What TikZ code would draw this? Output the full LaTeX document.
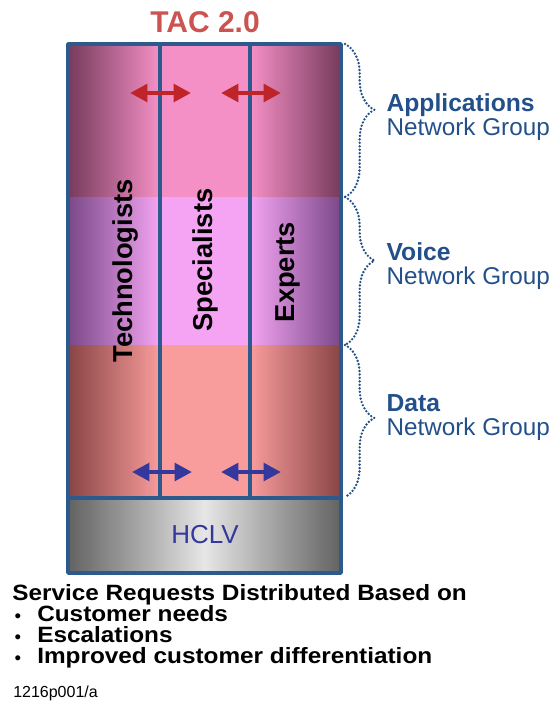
\documentclass[tikz,border=0pt]{standalone}
\usepackage{fontspec}
\setmainfont{Liberation Sans}
\newfontfamily\widesans[FakeStretch=1.1]{Liberation Sans}
\usetikzlibrary{arrows.meta,decorations.pathreplacing}
\definecolor{FrameBlue}{HTML}{2C5A8C}
\definecolor{TacRed}{HTML}{CB5450}
\definecolor{ArrowRed}{HTML}{BE2428}
\definecolor{ArrowBlue}{HTML}{34389C}
\definecolor{LabelBlue}{HTML}{23508A}
\definecolor{AppEdge}{HTML}{763A5C}
\definecolor{AppMid}{HTML}{F590C6}
\definecolor{VoiceEdge}{HTML}{7A4888}
\definecolor{VoiceMid}{HTML}{F4A4F2}
\definecolor{DataEdge}{HTML}{884444}
\definecolor{DataMid}{HTML}{F99C9C}
\definecolor{HclvEdge}{HTML}{626262}
\definecolor{HclvMid}{HTML}{E6E6E6}

\begin{document}
\begin{tikzpicture}[x=0.75pt,y=-0.75pt,line cap=round,line join=round,
  frame/.style={draw=FrameBlue,line width=2.6pt},
  swap/.style={line width=3.4pt,{Triangle[length=13pt,width=13pt]}-{Triangle[length=13pt,width=13pt]}},
  colname/.style={rotate=90,font=\bfseries\fontsize{20.5}{24}\selectfont},
  grouphead/.style={anchor=west,inner sep=1pt,text height=13pt,text depth=3pt,text=LabelBlue,
    font=\bfseries\fontsize{18.5}{22}\selectfont},
  groupsub/.style={anchor=west,inner sep=1pt,text height=13pt,text depth=3pt,text=LabelBlue,
    font=\fontsize{18.2}{22}\selectfont},
  groupbrace/.style={draw=LabelBlue,line width=2pt,dash pattern=on 0pt off 2.6pt,decorate,
    decoration={brace,amplitude=22pt,aspect=#1}},
  listline/.style={anchor=base west,inner sep=0pt,
    font=\widesans\bfseries\fontsize{16.6}{19}\selectfont}]
  \useasboundingbox (0,0) rectangle (553,704);

  % three bands, dark at the outer edges
  \foreach \ya/\yb/\ce/\cm in {44/197/AppEdge/AppMid,197/345/VoiceEdge/VoiceMid,345/498/DataEdge/DataMid}{
    \shade[left color=\ce,right color=\cm] (68,\ya) rectangle (160,\yb);
    \fill[\cm] (160,\ya) rectangle (250,\yb);
    \shade[left color=\cm,right color=\ce] (250,\ya) rectangle (341,\yb);
  }
  \shade[left color=HclvEdge,right color=HclvEdge,middle color=HclvMid] (68,498) rectangle (341,573);
  \draw[frame] (68,44) rectangle (341,573); \draw[frame] (68,498)--(341,498);
  \draw[frame] (160,44)--(160,498); \draw[frame] (250,44)--(250,498);

  \node[font=\bfseries\fontsize{22.5}{27}\selectfont,text=TacRed] (tac) at (205,22) {TAC 2.0};
  \node[colname] (tech) at (125,271) {Technologists};
  \node[colname] (spec) at (205,260) {Specialists};
  \node[colname] (expt) at (288,272) {Experts};
  \node[text=ArrowBlue,font=\fontsize{19.5}{23}\selectfont] (hclv) at (205,535) {HCLV};

  \coordinate (r1) at (130,93); \coordinate (r2) at (191,93);
  \coordinate (r3) at (221,93); \coordinate (r4) at (281,93);
  \coordinate (b1) at (132,472); \coordinate (b2) at (192,472);
  \coordinate (b3) at (221,472); \coordinate (b4) at (281,472);
  \draw[swap,ArrowRed] (r1)--(r2); \draw[swap,ArrowRed] (r3)--(r4);
  \draw[swap,ArrowBlue] (b1)--(b2); \draw[swap,ArrowBlue] (b3)--(b4);

  % network groups on the right
  \coordinate (g0) at (345,44); \coordinate (g1) at (345,197);
  \coordinate (g2) at (345,345); \coordinate (g3) at (345,497);
  \draw[groupbrace=0.43] (g0)--(g1);
  \draw[groupbrace=0.43] (g1)--(g2);
  \draw[groupbrace=0.48] (g2)--(g3);
  \node[grouphead] (apps) at (385,105) {Applications};
  \node[groupsub] (appsng) at (385,129) {Network Group};
  \node[grouphead] (voice) at (385,254) {Voice};
  \node[groupsub] (voiceng) at (385,278) {Network Group};
  \node[grouphead] (data) at (385,405) {Data};
  \node[groupsub] (datang) at (385,429) {Network Group};

  \node[listline] (srd) at (12,600) {Service Requests Distributed Based on};
  \foreach \y/\t [count=\i] in {621/Customer needs,642/Escalations,663/Improved customer differentiation}{
    \node[anchor=base,inner sep=0pt,font=\fontsize{14}{16}\selectfont] (dot\i) at (18,\y+1) {\textbullet};
    \node[listline] (item\i) at (37,\y) {\t};
  }
  \node[anchor=base west,inner sep=0pt,font=\fontsize{12}{14}\selectfont] (ref) at (13,697) {1216p001/a};
\end{tikzpicture}
\end{document}
